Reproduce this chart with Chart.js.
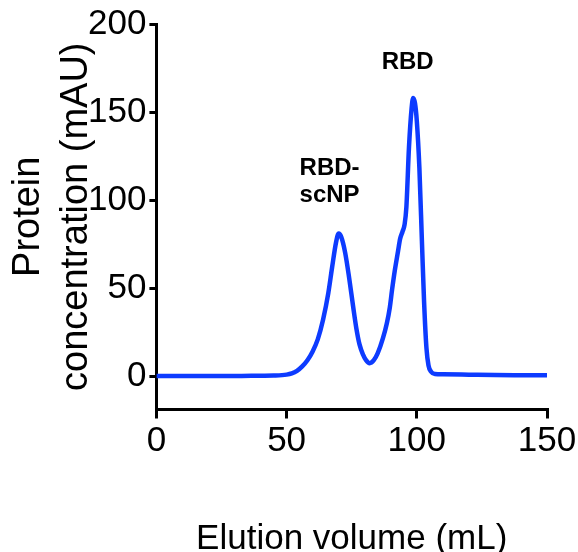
<!DOCTYPE html>
<html>
<head>
<meta charset="utf-8">
<script src="https://cdn.jsdelivr.net/npm/chart.js@4.4.1/dist/chart.umd.min.js"></script>
<style>
  html, body { margin: 0; padding: 0; background: #fff; }
  #wrap { width: 578px; height: 552px; }
</style>
</head>
<body>
<div id="wrap"><canvas id="myChart"></canvas></div>
<script>
// elution volume (mL) and absorbance (mAU)
var volume = [0, 10, 20, 30, 40, 45, 50, 52, 54, 56, 58, 60, 62, 64, 66, 67.5, 69, 70, 71, 72.5, 74, 75.5, 76.8, 78, 79.4, 80.5, 81.9, 83.5, 85, 87, 88.5, 89.6, 90.5, 91.5, 92.8, 93.6, 94.5, 95.3, 96, 97, 98, 98.6, 99.3, 100, 101, 102, 102.8, 103.7, 104.5, 105.5, 107, 110, 120, 130, 140, 150];
var mAU = [0, 0, 0, 0, 0.2, 0.3, 0.8, 1.5, 3, 5.5, 9, 14, 21, 32, 47, 62, 76, 81, 79, 70, 56, 40, 27, 18, 12, 9, 7.3, 9, 13, 21.5, 30, 38.6, 49, 59.5, 71, 78, 82, 86, 96, 130, 152, 158, 155, 145, 118, 75, 42, 16, 6, 2.5, 1.2, 1, 0.8, 0.6, 0.5, 0.4];

var xTicks = [0, 50, 100, 150];
var yTicks = [0, 50, 100, 150, 200];

// peak labels: text, x, y (data units)
var peakLabels = [
  { lines: ["RBD"], x: 96.5, y: 178 },
  { lines: ["RBD-", "scNP"], x: 66.5, y: 118 }
];

var FONT = "'Liberation Sans', Arial, sans-serif";
var points = volume.map(function (v, i) { return { x: v, y: mAU[i] }; });

var labelPlugin = {
  id: "peakLabels",
  afterDatasetsDraw: function (chart) {
    var ctx = chart.ctx;
    var xs = chart.scales.x, ys = chart.scales.y;
    ctx.save();
    ctx.fillStyle = "#000";
    ctx.font = "bold 24px " + FONT;
    ctx.textAlign = "center";
    ctx.textBaseline = "middle";
    peakLabels.forEach(function (p) {
      var px = xs.getPixelForValue(p.x);
      var py = ys.getPixelForValue(p.y);
      p.lines.forEach(function (t, k) {
        ctx.fillText(t, px, py + k * 27);
      });
    });
    ctx.restore();
  }
};

new Chart("myChart", {
  type: "line",
  data: {
    datasets: [
      {
        data: points,
        borderColor: "#0d3bff",
        borderWidth: 4.5,
        pointRadius: 0,
        fill: false,
        cubicInterpolationMode: "monotone",
      },
    ],
  },
  options: {
    responsive: true,
    maintainAspectRatio: false,
    animation: false,
    layout: { padding: { top: 3, right: 0, left: 5, bottom: 0 } },
    plugins: {
      legend: { display: false },
      tooltip: { enabled: false },
    },
    scales: {
      x: {
        type: "linear",
        min: 0,
        max: 150,
        afterBuildTicks: function (s) { s.ticks = xTicks.map(function (v) { return { value: v }; }); },
        afterFit: function (s) { s.paddingRight = 31; },
        ticks: { color: "#000", font: { family: FONT, size: 35, lineHeight: 1 }, padding: 5.5, maxRotation: 0 },
        grid: { display: true, drawOnChartArea: false, drawTicks: true, tickLength: 9, color: "#000", lineWidth: 3 },
        border: { display: true, color: "#000", width: 3 },
        title: {
          display: true,
          text: "Elution volume (mL)",
          color: "#000",
          font: { family: FONT, size: 35, lineHeight: 1 },
          padding: { top: 57, bottom: -4.5 },
        },
      },
      y: {
        min: -19,
        max: 200,
        afterBuildTicks: function (s) { s.ticks = yTicks.map(function (v) { return { value: v }; }); },
        afterFit: function (s) { s.width -= 15; },
        ticks: { color: "#000", font: { family: FONT, size: 35 }, padding: 3 },
        grid: { display: true, drawOnChartArea: false, drawTicks: true, tickLength: 7, color: "#000", lineWidth: 3 },
        border: { display: true, color: "#000", width: 3 },
        title: {
          display: true,
          text: ["Protein", "concentration (mAU)"],
          color: "#000",
          font: { family: FONT, size: 38, lineHeight: 1.25 },
          padding: { top: 0, bottom: 0 },
        },
      },
    },
  },
  plugins: [labelPlugin],
});
</script>
</body>
</html>
